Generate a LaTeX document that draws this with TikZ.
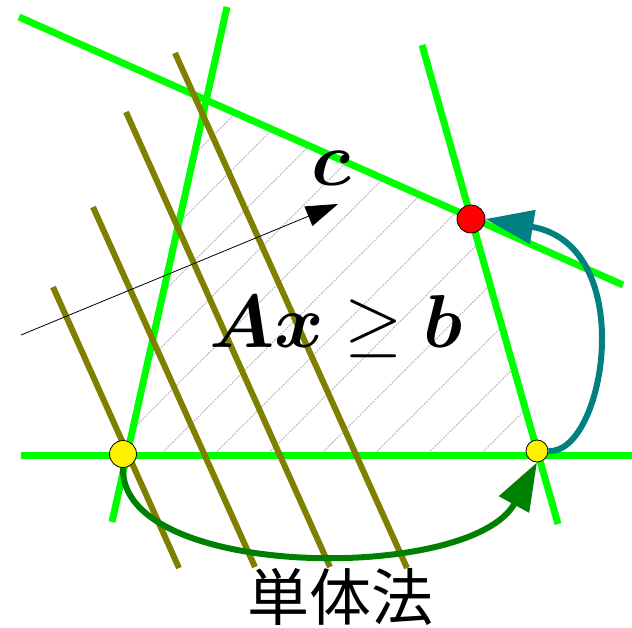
\RequirePackage{fix-cm}
\documentclass[tikz,border=0pt]{standalone}
\usepackage{bm}
\usepackage{fontspec}
\newfontfamily\jpfont{Noto Sans CJK JP}
\usetikzlibrary{arrows.meta}
\definecolor{linegreen}{RGB}{0,255,0}
\definecolor{levelolive}{RGB}{128,128,0}
\definecolor{pathgreen}{RGB}{0,128,0}
\definecolor{pathteal}{RGB}{0,128,128}
\tikzset{
  constraint/.style={linegreen,line width=7pt},
  levelset/.style={levelolive,line width=6pt},
  hatchline/.style={gray!70,line width=0.7pt,dash pattern=on 2pt off 1pt},
  vertex/.style={circle,draw=black,line width=0.8pt,fill=yellow,inner sep=0pt},
  pivot/.style={line width=6pt,-{Triangle[length=48pt,width=33pt]}}
}
\begin{document}
\begin{tikzpicture}[x=1pt,y=-1pt]
 \useasboundingbox (0,0) rectangle (632,627);
 \begin{scope}
  \clip (206,100) -- (471,218) -- (539,455) -- (127,455) -- cycle;
  \foreach \k in {-9,...,5}
   \draw[hatchline] ({775+53.3*\k},0) -- ({775+53.3*\k-700},700);
 \end{scope}
 \draw[constraint] (19,17) -- (623,285);
 \draw[constraint] (227,7) -- (112,522);
 \draw[constraint] (422,45) -- (558,524);
 \draw[constraint] (21,455) -- (632,455);
 \draw[levelset] (53,287) -- (179,568);
 \draw[levelset] (93,207) -- (255,567);
 \draw[levelset] (126,112) -- (330,567);
 \draw[levelset] (175,53) -- (407,568);
 \coordinate (cstart) at (21,335);
 \coordinate (cend) at (338,204);
 \draw[line width=0.8pt,-{Triangle[length=32pt,width=21pt]}] (cstart) -- (cend);
 \node[anchor=base] (cvec) at (331,185) {\fontsize{77}{90}\selectfont$\bm{c}$};
 \node[anchor=base] (feas) at (336,347) {\fontsize{75}{90}\selectfont$\bm{Ax}\geq\bm{b}$};
 \node[vertex,minimum size=27pt] (start) at (123,454) {};
 \node[vertex,minimum size=22pt] (mid) at (537,451) {};
 \node[vertex,fill=red,minimum size=28pt] (opt) at (471,219) {};
 \draw[pivot,pathgreen] (start.south) .. controls (120,580) and (471,583) .. (mid.south);
 \draw[pivot,pathteal] (mid.east) .. controls (605,455) and (640,245) .. (opt.east);
 \node (simplex) at (340,597) {\jpfont\fontsize{62}{70}\selectfont 単体法};
\end{tikzpicture}
\end{document}
